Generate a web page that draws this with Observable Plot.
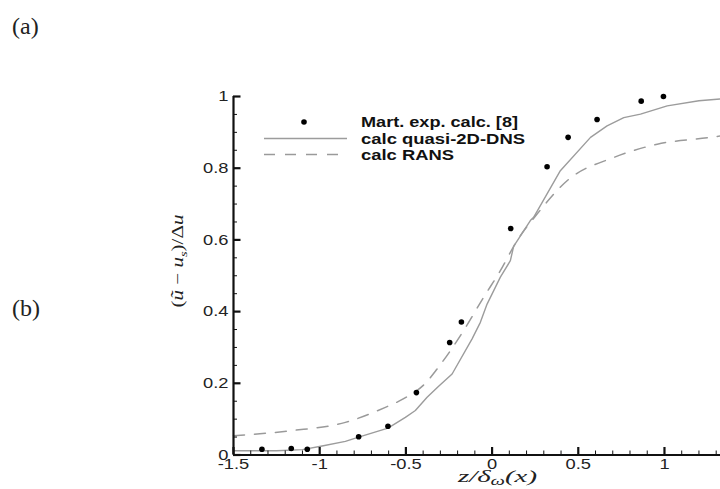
<!DOCTYPE html>
<html><head><meta charset="utf-8">
<script src="https://cdn.jsdelivr.net/npm/d3@7"></script>
<script src="https://cdn.jsdelivr.net/npm/@observablehq/plot@0.6"></script>
<style>
body{margin:0;background:#fff;overflow:hidden}
svg{display:block}
</style>
</head><body><div id="chart"></div>
<script>
// Experimental points (Mart. exp. calc. [8])
const expX = [-1.335,-1.165,-1.072,-0.774,-0.604,-0.439,-0.246,-0.178,0.108,0.319,0.441,0.609,0.865,0.994];
const expY = [0.016,0.018,0.016,0.051,0.080,0.174,0.314,0.371,0.632,0.804,0.886,0.936,0.987,1.000];
// calc quasi-2D-DNS (solid)
const dnsX = [-1.5,-1.25,-1.1,-0.986,-0.851,-0.774,-0.604,-0.503,-0.445,-0.377,-0.31,-0.232,-0.116,-0.068,-0.029,0.048,0.106,0.125,0.222,0.241,0.396,0.571,0.667,0.764,0.861,1.016,1.2,1.325];
const dnsY = [0.012,0.012,0.015,0.025,0.038,0.050,0.075,0.105,0.124,0.161,0.192,0.226,0.324,0.370,0.421,0.496,0.542,0.582,0.654,0.663,0.793,0.886,0.918,0.941,0.951,0.974,0.988,0.993];
// calc RANS (dashed)
const ransX = [-1.5,-1.161,-0.851,-0.619,-0.513,-0.387,-0.319,-0.165,-0.049,0.048,0.145,0.261,0.435,0.706,0.958,1.267,1.325];
const ransY = [0.054,0.068,0.091,0.133,0.157,0.200,0.240,0.347,0.440,0.514,0.598,0.672,0.765,0.830,0.867,0.886,0.890];
// axis ticks
const xMajor = [-1.5,-1,-0.5,0,0.5,1];
const xMinor = [-1.4,-1.3,-1.2,-1.1,-0.9,-0.8,-0.7,-0.6,-0.4,-0.3,-0.2,-0.1,0.1,0.2,0.3,0.4,0.6,0.7,0.8,0.9,1.1,1.2,1.3];
const yMajor = [0,0.2,0.4,0.6,0.8,1];
const yMinor = [0.05,0.1,0.15,0.25,0.3,0.35,0.45,0.5,0.55,0.65,0.7,0.75,0.85,0.9,0.95];
// legend labels
const seriesNames = ["Mart. exp. calc. [8]","calc quasi-2D-DNS","calc RANS"];

const exp = expX.map((x,i)=>({x, y: expY[i]}));
const dns = dnsX.map((x,i)=>({x, y: dnsY[i]}));
const rans = ransX.map((x,i)=>({x, y: ransY[i]}));

const W = 720, H = 489;
const mL = 233, mR = 0, mT = 96, mB = 34.5;
const pW = W - mL - mR, pH = H - mT - mB;
const AX = "#111";

const plot = Plot.plot({
  width: W, height: H,
  marginLeft: mL, marginRight: mR, marginTop: mT, marginBottom: mB,
  x: {domain: [-1.5, 1.325]},
  y: {domain: [0, 1]},
  style: {background: "#fff", fontFamily: "'Liberation Sans', Arial, sans-serif", color: "#222", overflow: "visible"},
  marks: [
    Plot.line(rans, {x: "x", y: "y", stroke: "#9a9a9a", strokeWidth: 1.5, strokeDasharray: "11,10", curve: "monotone-x"}),
    Plot.line(dns, {x: "x", y: "y", stroke: "#9c9c9c", strokeWidth: 1.4}),
    Plot.dot(exp, {x: "x", y: "y", r: 2.8, fill: "#000", stroke: "none"}),
    Plot.tickX(xMinor, {x: d => d, insetTop: pH - 4, stroke: AX, strokeWidth: 1}),
    Plot.tickX(xMajor, {x: d => d, insetTop: pH - 7.5, stroke: AX, strokeWidth: 2.2}),
    Plot.tickY(yMinor, {y: d => d, insetRight: pW - 4, stroke: AX, strokeWidth: 1}),
    Plot.tickY(yMajor, {y: d => d, insetRight: pW - 7.5, stroke: AX, strokeWidth: 2.2}),
    Plot.ruleX([-1.5], {stroke: AX, strokeWidth: 2.2}),
    Plot.ruleY([0], {stroke: AX, strokeWidth: 2.2}),
    Plot.axisX({ticks: xMajor, tickSize: 0, tickPadding: 3, tickFormat: d => String(d), fontSize: 15, label: null}),
    Plot.axisY({ticks: yMajor, tickSize: 0, tickPadding: 5, tickFormat: d => String(d), fontSize: 15, label: null})
  ]
});
document.getElementById("chart").appendChild(plot);

const svg = d3.select(plot);
// widen tick labels to match the horizontally stretched reference
svg.selectAll('g[aria-label="x-axis tick label"] text, g[aria-label="y-axis tick label"] text').each(function(){
  const L = this.getComputedTextLength();
  d3.select(this).attr("textLength", L * 1.22).attr("lengthAdjust", "spacingAndGlyphs");
});

// Legend
const lg = svg.append("g").attr("font-family", "'Liberation Sans', Arial, sans-serif").attr("font-weight", "bold").attr("font-size", 15).attr("fill", "#111").attr("text-anchor", "start");
lg.append("circle").attr("cx", 304).attr("cy", 122).attr("r", 2.8).attr("fill", "#000");
lg.append("line").attr("x1", 264).attr("x2", 347).attr("y1", 138.5).attr("y2", 138.5).attr("stroke", "#9c9c9c").attr("stroke-width", 1.4);
lg.append("line").attr("x1", 264).attr("x2", 347).attr("y1", 154.5).attr("y2", 154.5).attr("stroke", "#9a9a9a").attr("stroke-width", 1.5).attr("stroke-dasharray", "11,10");
const lens = [157, 164, 93];
const ys = [127, 143.5, 160];
seriesNames.forEach((s, i) => {
  lg.append("text").attr("x", 361).attr("y", ys[i]).attr("text-anchor", "start").attr("textLength", lens[i]).attr("lengthAdjust", "spacingAndGlyphs").text(s);
});

// Axis titles (math)
const xt = svg.append("text").attr("x", 458).attr("y", 482).attr("text-anchor", "start")
  .attr("font-family", "'Liberation Serif', 'DejaVu Serif', serif").attr("font-style", "italic").attr("font-size", 17).attr("fill", "#222")
  .attr("textLength", 79).attr("lengthAdjust", "spacingAndGlyphs");
xt.append("tspan").text("z/δ");
xt.append("tspan").attr("font-size", 12).attr("dy", 3).text("ω");
xt.append("tspan").attr("dy", -3).text("(x)");

const yt = svg.append("text").attr("transform", "translate(183,261) rotate(-90)").attr("text-anchor", "middle")
  .attr("font-family", "'Liberation Serif', 'DejaVu Serif', serif").attr("font-size", 16).attr("fill", "#222")
  .attr("textLength", 93).attr("lengthAdjust", "spacingAndGlyphs");
yt.append("tspan").text("(");
yt.append("tspan").attr("font-style", "italic").text("ũ");
yt.append("tspan").text(" − ");
yt.append("tspan").attr("font-style", "italic").text("u");
yt.append("tspan").attr("font-style", "italic").attr("font-size", 11).attr("dy", 4).text("s");
yt.append("tspan").attr("dy", -4).text(")/Δ");
yt.append("tspan").attr("font-style", "italic").text("u");

// Panel labels
svg.append("text").attr("x", 12).attr("y", 34).attr("text-anchor", "start").attr("font-family", "'Liberation Serif', 'Times New Roman', serif").attr("font-size", 24).attr("fill", "#222").text("(a)");
svg.append("text").attr("x", 12).attr("y", 316).attr("text-anchor", "start").attr("font-family", "'Liberation Serif', 'Times New Roman', serif").attr("font-size", 24).attr("fill", "#222").text("(b)");
</script>
</body></html>
